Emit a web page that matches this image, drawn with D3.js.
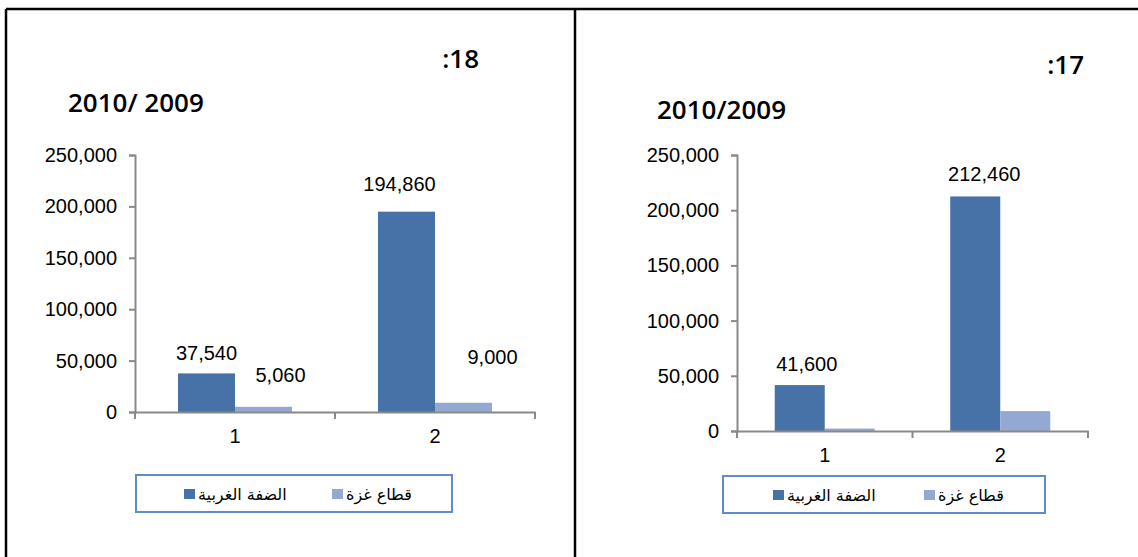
<!DOCTYPE html>
<html>
<head>
<meta charset="utf-8">
<script src="https://cdn.jsdelivr.net/npm/d3@7"></script>
<style>
  body { margin: 0; background: #fff; }
  svg { display: block; }
  .tick text { font-family: "Liberation Sans", Arial, sans-serif; font-size: 20px; fill: #000; }
</style>
</head>
<body>
<svg></svg>
<script>
// chart data
let categories = ["1", "2"];
let seriesNames = ["الضفة الغربية", "قطاع غزة"];
let westBank18 = [37540, 194860];
let gaza18 = [5060, 9000];
let westBank17 = [41600, 212460];
let gaza17 = [2200, 18000];
let yTicks = [0, 50000, 100000, 150000, 200000, 250000];

let width = 1138;
let height = 557;
let colors = ["#4672a8", "#93a9d1"];

let svg = d3.select("svg").attr("width", width).attr("height", height);

// frame lines
let frame = svg.append("g").attr("stroke", "#000").attr("stroke-width", 2.5);
frame.append("line").attr("x1", 6).attr("x2", width).attr("y1", 9).attr("y2", 9);
frame.append("line").attr("x1", 6).attr("x2", 6).attr("y1", 9).attr("y2", height);
frame.append("line").attr("x1", 575).attr("x2", 575).attr("y1", 9).attr("y2", height);

// layout of each panel (label offsets are [dx, dy] from bar top centre)
let panels = [
  {
    num: ":18", numX: 479, numY: 59,
    title: "2010/ 2009", titleX: 68, titleY: 103,
    left: 135, right: 535, top: 155, bottom: 412,
    series: [westBank18, gaza18],
    labelOffsets: [[[0, -21], [17, -32]], [[-7, -28], [29, -46]]],
    showLabels: [true, true],
    legend: { x: 136, y: 475, w: 316, h: 37, items: [48, 196] }
  },
  {
    num: ":17", numX: 1084, numY: 65,
    title: "2010/2009", titleX: 657, titleY: 110,
    left: 737, right: 1088, top: 155, bottom: 431,
    series: [westBank17, gaza17],
    labelOffsets: [[[7, -21], [0, 0]], [[9, -23], [0, 0]]],
    showLabels: [true, false],
    legend: { x: 723, y: 476, w: 322, h: 37, items: [50, 201] }
  }
];

function fmt(v) {
  return d3.format(",")(v);
}

function drawPanel(p) {
  let g = svg.append("g");

  g.append("text")
    .attr("x", p.numX)
    .attr("y", p.numY)
    .attr("dy", "0.36em")
    .attr("text-anchor", "end")
    .style("font-family", "'Open Sans', sans-serif")
    .style("font-weight", 600)
    .style("font-size", "26px")
    .text(p.num);

  g.append("text")
    .attr("x", p.titleX)
    .attr("y", p.titleY)
    .attr("dy", "0.36em")
    .style("font-family", "'Open Sans', sans-serif")
    .style("font-weight", 600)
    .style("font-size", "26px")
    .text(p.title);

  let yScale = d3.scaleLinear().domain([0, 250000]).range([p.bottom, p.top]);
  let xScale = d3.scaleBand().domain(categories).range([p.left, p.right]);
  let bw = xScale.bandwidth();
  let groupW = bw * 0.57;
  let xInner = d3.scaleBand()
    .domain(d3.range(seriesNames.length))
    .range([(bw - groupW) / 2, (bw + groupW) / 2]);

  // y axis
  let yAxis = d3.axisLeft(yScale).tickValues(yTicks).tickFormat(fmt).tickSize(6).tickPadding(12);
  let yg = g.append("g").attr("transform", `translate(${p.left}, 0)`).call(yAxis);
  yg.select(".domain").attr("stroke", "#898989").attr("stroke-width", 2);
  yg.selectAll(".tick line").attr("stroke", "#898989").attr("stroke-width", 2);

  // bars
  categories.forEach((c, i) => {
    p.series.forEach((s, j) => {
      g.append("rect")
        .attr("x", xScale(c) + xInner(j))
        .attr("y", yScale(s[i]))
        .attr("width", xInner.bandwidth())
        .attr("height", yScale(0) - yScale(s[i]))
        .attr("fill", colors[j]);
    });
  });

  // x axis: labels at band centres, ticks at band edges
  let xAxis = d3.axisBottom(xScale).tickSize(0).tickPadding(17).tickSizeOuter(0);
  let xg = g.append("g").attr("transform", `translate(0, ${p.bottom})`).call(xAxis);
  xg.select(".domain").attr("stroke", "#898989").attr("stroke-width", 2);
  let edges = categories.map((c) => xScale(c)).concat([p.right]);
  xg.selectAll(".edge")
    .data(edges)
    .enter()
    .append("line")
    .attr("x1", (d) => d)
    .attr("x2", (d) => d)
    .attr("y1", 0)
    .attr("y2", 7)
    .attr("stroke", "#898989")
    .attr("stroke-width", 2);

  // data labels
  categories.forEach((c, i) => {
    p.series.forEach((s, j) => {
      if (!p.showLabels[j]) return;
      let off = p.labelOffsets[i][j];
      g.append("text")
        .attr("x", xScale(c) + xInner(j) + xInner.bandwidth() / 2 + off[0])
        .attr("y", yScale(s[i]) + off[1])
        .attr("dy", "0.36em")
        .attr("text-anchor", "middle")
        .style("font-family", "'Liberation Sans', Arial, sans-serif")
        .style("font-size", "20px")
        .text(fmt(s[i]));
    });
  });

  // legend
  let lg = g.append("g").attr("transform", `translate(${p.legend.x}, ${p.legend.y})`);
  lg.append("rect")
    .attr("width", p.legend.w)
    .attr("height", p.legend.h)
    .attr("fill", "#fff")
    .attr("stroke", "#5e8dc8")
    .attr("stroke-width", 2);
  seriesNames.forEach((name, j) => {
    let ix = p.legend.items[j];
    lg.append("rect")
      .attr("x", ix)
      .attr("y", 14)
      .attr("width", 11)
      .attr("height", 10)
      .attr("fill", colors[j]);
    lg.append("text")
      .attr("x", ix + 14)
      .attr("y", 19)
      .attr("dy", "0.36em")
      .attr("direction", "rtl")
      .attr("text-anchor", "end")
      .style("font-family", "'DejaVu Sans', sans-serif")
      .style("font-size", "16px")
      .text(name);
  });
}

panels.forEach(drawPanel);
</script>
</body>
</html>
